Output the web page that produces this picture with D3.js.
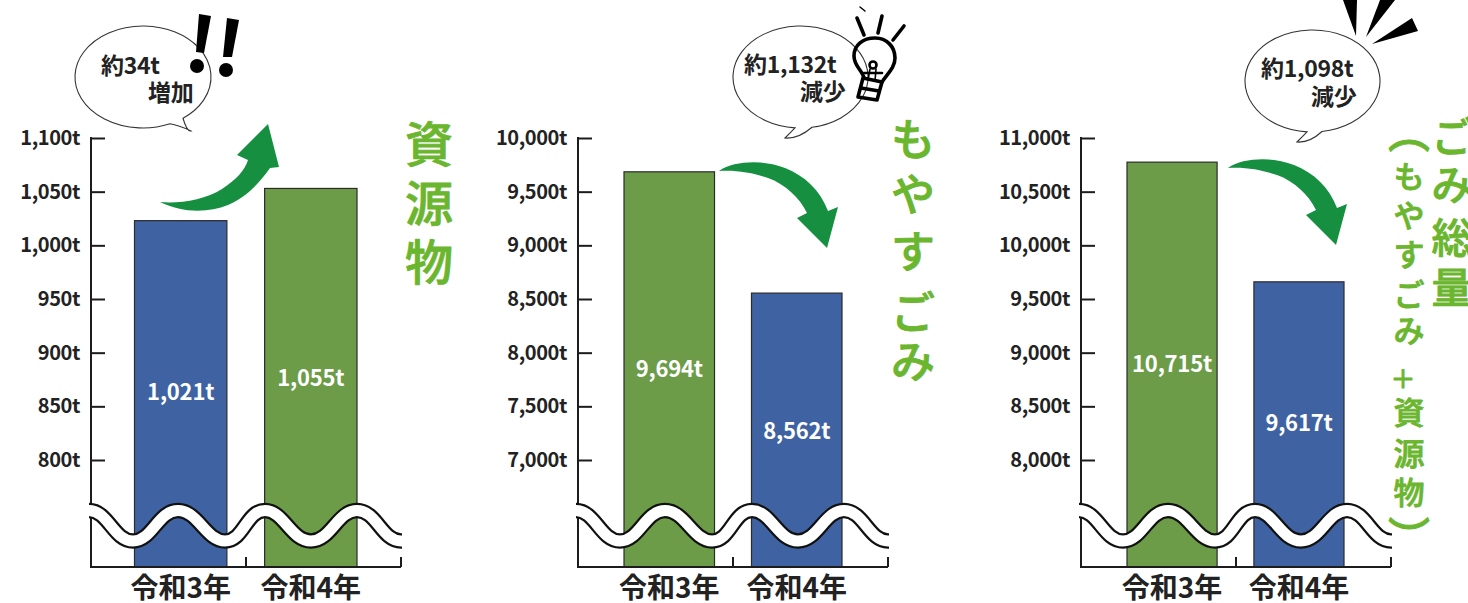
<!DOCTYPE html>
<html lang="ja">
<head>
<meta charset="utf-8">
<script src="https://cdn.jsdelivr.net/npm/d3@7"></script>
<style>
  html, body { margin: 0; padding: 0; background: #fff; overflow: hidden; }
  text { font-family: "Noto Sans CJK JP", "Noto Sans", sans-serif; }
  .tick text { fill: #222; }
</style>
</head>
<body>
<div id="chart"></div>
<script>
// --- Data ---
const categories = ["令和3年", "令和4年"];

// bar heights as drawn against the axis (the artwork is not quite to scale with its labels)
const shigenBars = [1023, 1053];
const moyasuBars = [9685, 8555];
const totalBars = [10775, 9660];

const shigenLabels = ["1,021t", "1,055t"];
const moyasuLabels = ["9,694t", "8,562t"];
const totalLabels = ["10,715t", "9,617t"];

const shigenTicks = [800, 850, 900, 950, 1000, 1050, 1100];
const moyasuTicks = [7000, 7500, 8000, 8500, 9000, 9500, 10000];
const totalTicks = [8000, 8500, 9000, 9500, 10000, 10500, 11000];

const bubbleLines = [
  ["約34t", "増加"],
  ["約1,132t", "減少"],
  ["約1,098t", "減少"]
];

const blue = "#3f63a2";
const green = "#6c9c48";
const titleGreen = "#6ab62e";
const arrowGreen = "#12903f";

// --- Layout ---
const width = 1468;
const height = 603;
const plotTop = 138;
const tick800 = 460;
const plotBottom = 567;

const panels = [
  { bars: shigenBars, labels: shigenLabels, ticks: shigenTicks, axisX: 91, barL: 134.5, barR: 357,
    colors: [blue, green], labelY: [392, 378] },
  { bars: moyasuBars, labels: moyasuLabels, ticks: moyasuTicks, axisX: 578, barL: 624, barR: 842,
    colors: [green, blue], labelY: [369, 431] },
  { bars: totalBars, labels: totalLabels, ticks: totalTicks, axisX: 1081, barL: 1127, barR: 1344,
    colors: [green, blue], labelY: [364, 423] }
];

const svg = d3.select("#chart")
  .append("svg")
  .attr("width", width)
  .attr("height", height)
  .style("display", "block");

const defs = svg.append("defs");
defs.append("filter").attr("id", "soft")
  .append("feGaussianBlur").attr("stdDeviation", 0.7);

// centre line of the axis break, offsets from the axis line (one extra point each side, clipped)
const waveX = [-46, -2, 42, 87, 134, 174, 220, 266, 310, 354];
const waveY = [541, 510.5, 541, 510.5, 541, 510.5, 541, 510.5, 541, 510.5];
const waveLine = d3.line().curve(d3.curveCardinal.tension(-0.3));

panels.forEach((p, n) => {
  const g = svg.append("g");
  const axisW = 310;

  const yScale = d3.scaleLinear()
    .domain([p.ticks[0], p.ticks[p.ticks.length - 1]])
    .range([tick800, plotTop]);

  const xScale = d3.scaleBand()
    .domain(categories)
    .range([p.barL, p.barR])
    .paddingInner(0.29);

  // Bars
  g.selectAll(".bar")
    .data(p.bars)
    .enter()
    .append("rect")
    .attr("class", "bar")
    .attr("x", (d, i) => xScale(categories[i]))
    .attr("y", d => yScale(d))
    .attr("width", xScale.bandwidth())
    .attr("height", d => plotBottom - yScale(d))
    .attr("fill", (d, i) => p.colors[i])
    .attr("stroke", "#2b2b2b")
    .attr("stroke-width", 1.2);

  // Y axis
  const yAxis = g.append("g")
    .attr("transform", `translate(${p.axisX},0)`)
    .call(d3.axisLeft(yScale)
      .tickValues(p.ticks)
      .tickSize(-14)
      .tickPadding(11)
      .tickFormat(d => d3.format(",")(d) + "t"));
  yAxis.select(".domain").remove();
  yAxis.selectAll(".tick line").attr("stroke", "#1c1c1c").attr("stroke-width", 2);
  yAxis.selectAll("text")
    .attr("font-size", 20)
    .attr("font-weight", 700)
    .attr("letter-spacing", -0.4);

  g.append("line")
    .attr("x1", p.axisX).attr("x2", p.axisX)
    .attr("y1", plotTop - 1).attr("y2", plotBottom + 1)
    .attr("stroke", "#1c1c1c").attr("stroke-width", 2);

  // X axis line and its small upward ticks
  g.append("line")
    .attr("x1", p.axisX).attr("x2", p.axisX + axisW)
    .attr("y1", plotBottom).attr("y2", plotBottom)
    .attr("stroke", "#1c1c1c").attr("stroke-width", 2);
  g.selectAll(".xtick")
    .data([axisW / 2, axisW])
    .enter()
    .append("line")
    .attr("x1", d => p.axisX + d).attr("x2", d => p.axisX + d)
    .attr("y1", plotBottom - 10).attr("y2", plotBottom)
    .attr("stroke", "#1c1c1c").attr("stroke-width", 2);

  // Category labels
  const xAxis = g.append("g")
    .attr("transform", `translate(0,${plotBottom})`)
    .call(d3.axisBottom(xScale).tickSize(0).tickPadding(11));
  xAxis.select(".domain").remove();
  xAxis.selectAll("text")
    .attr("font-size", 28)
    .attr("font-weight", 700);

  // Values on the bars
  g.selectAll(".value")
    .data(p.labels)
    .enter()
    .append("text")
    .attr("class", "value")
    .attr("x", (d, i) => xScale(categories[i]) + xScale.bandwidth() / 2)
    .attr("y", (d, i) => p.labelY[i])
    .attr("dy", "0.35em")
    .attr("text-anchor", "middle")
    .attr("fill", "#fff")
    .attr("font-size", 22)
    .attr("font-weight", 700)
    .attr("letter-spacing", -0.2)
    .text(d => d);

  // Axis break: thick black stroke with a white stroke on top
  defs.append("clipPath").attr("id", `waveClip${n}`)
    .append("rect")
    .attr("x", p.axisX - 2)
    .attr("y", plotBottom - 80)
    .attr("width", axisW + 3)
    .attr("height", 75);

  const wave = waveLine(waveX.map((dx, i) => [p.axisX + dx, waveY[i]]));
  const waveG = g.append("g").attr("clip-path", `url(#waveClip${n})`);
  waveG.append("path").attr("d", wave).attr("fill", "none").attr("stroke", "#111").attr("stroke-width", 15.4);
  waveG.append("path").attr("d", wave).attr("fill", "none").attr("stroke", "#fff").attr("stroke-width", 11);
});

// --- Curved arrows ---
const arrowUp = "M160,202 C178,204 205,200 222,189 C236,180 245,170 248,160 L237,155 L268,124 L279,167 L270,168 " +
  "C260,182 248,196 228,205 C208,213 182,213 160,202 Z";
const arrowDown = "M719,171 C735,160 765,160 785,168 C805,176 820,190 828,211 L838,207 L827,248 L797,218 L807,213 " +
  "C800,198 785,184 768,178 C750,172 735,170 719,171 Z";

svg.append("path").attr("d", arrowUp).attr("fill", arrowGreen).attr("filter", "url(#soft)");
svg.append("path").attr("d", arrowDown).attr("fill", arrowGreen).attr("filter", "url(#soft)");
svg.append("path").attr("d", arrowDown).attr("fill", arrowGreen).attr("filter", "url(#soft)")
  .attr("transform", "translate(509,-3)");

// --- Speech bubbles ---
function bubblePath(b) {
  const onEdge = x => b.cy + b.ry * Math.sqrt(1 - ((x - b.cx) / b.rx) ** 2);
  const xa = b.tail[0], xb = b.tail[1];
  const tipX = b.tail[2], tipY = b.tail[3];
  return `M${xb},${onEdge(xb)} A${b.rx},${b.ry} 0 1 0 ${xa},${onEdge(xa)} ` +
    `Q${xa + (tipX - xa) * 0.4},${tipY - 6} ${tipX},${tipY} ` +
    `Q${(tipX + xb) / 2},${tipY + 1} ${xb},${onEdge(xb)} Z`;
}

const bubbles = [
  { cx: 143, cy: 77, rx: 68, ry: 51, tail: [170, 183, 191, 131], tx: [101, 148], ty: [74, 101] },
  { cx: 800.5, cy: 77, rx: 67.5, ry: 51, tail: [795, 812, 785, 138], tx: [744, 800], ty: [73, 100] },
  { cx: 1312.5, cy: 81, rx: 67.5, ry: 51, tail: [1307, 1322, 1297, 142], tx: [1261, 1311], ty: [77, 105] }
];

bubbles.forEach((b, i) => {
  svg.append("path")
    .attr("d", bubblePath(b))
    .attr("fill", "#fff")
    .attr("stroke", "#333")
    .attr("stroke-width", 1.1);
  svg.selectAll(null)
    .data(bubbleLines[i])
    .enter()
    .append("text")
    .attr("x", (d, j) => b.tx[j])
    .attr("y", (d, j) => b.ty[j])
    .attr("fill", "#222")
    .attr("font-size", 23)
    .attr("font-weight", 700)
    .attr("letter-spacing", -0.3)
    .text(d => d);
});

// --- Decorations ---
// "!!" on the first bubble
const bangs = svg.append("g").attr("fill", "#000");
bangs.append("path").attr("d", "M199,14 L211,16 L204,53 L196,52 Z");
bangs.append("circle").attr("cx", 197).attr("cy", 66).attr("r", 7);
bangs.append("path").attr("d", "M227,18 L239,20 L232,57 L223,57 Z");
bangs.append("circle").attr("cx", 226).attr("cy", 70).attr("r", 7);

// light bulb on the second bubble
const bulb = svg.append("g")
  .attr("fill", "none")
  .attr("stroke", "#000")
  .attr("stroke-width", 3.6)
  .attr("stroke-linecap", "round")
  .attr("stroke-linejoin", "round");
bulb.append("path").attr("d",
  "M864,78 C862,70 854,66 854,56 C854,45 863,38 875,38 C887,38 895,47 895,58 C895,68 887,74 882,82");
bulb.append("path").attr("d", "M863,78 L882,82 L877,100 L858,97 Z");
bulb.append("path").attr("d", "M861,88 L879,91");
bulb.append("circle").attr("cx", 873).attr("cy", 65).attr("r", 3.5).attr("stroke-width", 2.6);
bulb.append("path").attr("d", "M864,73 L882,73").attr("stroke-width", 2.6);
bulb.append("path").attr("d", "M870,69 L868,80 M876,69 L875,81").attr("stroke-width", 1.6);
[[857, 18, 864, 35], [882, 16, 878, 33], [904, 26, 893, 40]].forEach(r => {
  bulb.append("line").attr("x1", r[0]).attr("y1", r[1]).attr("x2", r[2]).attr("y2", r[3]);
});
bulb.append("line").attr("x1", 860).attr("y1", 7).attr("x2", 865).attr("y2", 11).attr("stroke-width", 1.5);

// spikes on the third bubble
const spikes = svg.append("g").attr("fill", "#000");
spikes.append("path").attr("d", "M1356,36 L1343,0 L1357,0 Z");
spikes.append("path").attr("d", "M1366,37 L1380,0 L1395,0 Z");
spikes.append("path").attr("d", "M1372,44 L1412,18 L1418,31 Z");

// --- Vertical green titles ---
const titles = [
  { chars: ["資", "源", "物"], x: 429, y: [145, 204, 263], size: 48 },
  { chars: ["も", "や", "す", "ご", "み"], x: 913, y: [140, 195, 252, 313, 362], size: 44 },
  { chars: ["ご", "み", "総", "量"], x: 1452, y: [137, 185, 238, 288], size: 41 },
  { chars: ["も", "や", "す", "ご", "み", "資", "源", "物"], x: 1409,
    y: [177, 216, 255, 295, 331, 413, 454, 493], size: 31 },
  { chars: ["＋"], x: 1403, y: [379], size: 25 },
  { chars: ["︵", "︶"], x: 1409, y: [133, 538], size: 42 }
];

titles.forEach(t => {
  svg.selectAll(null)
    .data(t.chars)
    .enter()
    .append("text")
    .attr("x", t.x)
    .attr("y", (d, i) => t.y[i])
    .attr("dy", "0.36em")
    .attr("text-anchor", "middle")
    .attr("fill", titleGreen)
    .attr("stroke", titleGreen)
    .attr("stroke-width", 0.8)
    .attr("stroke-linejoin", "round")
    .attr("font-size", t.size)
    .attr("font-weight", 500)
    .text(d => d);
});
</script>
</body>
</html>
